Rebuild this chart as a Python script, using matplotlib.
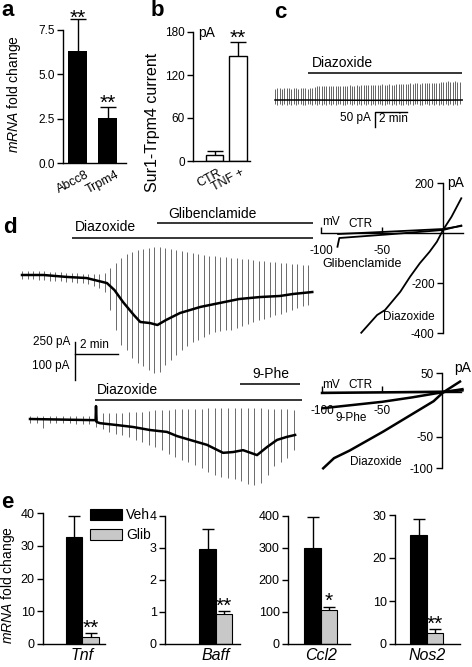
import numpy as np
import matplotlib
matplotlib.use("Agg")
import matplotlib.pyplot as plt
import matplotlib.transforms as mtransforms

plt.rcParams['font.family'] = ['Liberation Sans', 'DejaVu Sans']
plt.rcParams['mathtext.fontset'] = 'custom'
plt.rcParams['mathtext.rm'] = 'Liberation Sans'
plt.rcParams['mathtext.it'] = 'Liberation Sans:italic'
plt.rcParams['axes.linewidth'] = 1.0

# ---------------- data ----------------
# a: mRNA fold change
a_genes = ["Abcc8", "Trpm4"]
a_fold = [6.3, 2.55]
a_sem = [1.8, 0.6]

# b: Sur1-Trpm4 current (pA)
b_groups = ["CTR", "TNF +"]
b_current = [8, 147]
b_sem = [6, 19]

# c: trace (min, pA), one sweep every ~9 s
c_sweep_dt = 0.146
c_top = [38, 40, 39, 38, 40, 39, 39, 38, 40, 39, 38, 40, 39, 39, 38, 40, 39,
         45, 47, 46, 48, 47, 46, 48, 47, 47, 46, 48, 47, 46, 48, 47, 49, 48, 47, 49, 48, 49,
         50, 49, 51, 50, 50, 49, 51, 50, 52, 51, 50, 52, 51, 50, 52, 53, 52, 53, 54,
         55, 56, 55, 57, 56, 55, 57, 56, 58, 57, 56, 58, 57, 58,
         60, 61, 60, 62, 61, 60, 62, 61, 60]
c_bot = [-14, -16, -13, -15, -14, -17, -13, -15, -14, -16, -14, -13, -15, -16, -14, -13, -15,
         -14, -16, -13, -15, -14, -17, -13, -15, -14, -16, -14, -13, -15, -16, -14, -13, -15, -14, -16, -13,
         -15, -14, -17, -13, -15, -14, -16, -14, -13, -15, -16, -14, -13, -15, -14, -16, -13, -15,
         -17, -13, -15, -14, -16, -14, -13, -15, -16, -14, -13, -15, -14, -16,
         -13, -15, -14, -17, -13, -15, -14, -16, -14, -15, -13]
c_base_t = [0, 2, 6, 9, 11.7]
c_base_i = [0, 0, -1, -1, 0]
c_diaz = (2.06, 11.7)

# d upper trace: diazoxide then glibenclamide
d1_sweep_dt = 0.256
d1_top = [26, 26, 26, 26, 26, 20, 20, 20, 13, 13, 13, 7, 7, 7, 7, 13,
          46, 79, 112, 138, 151, 165, 171, 178, 184, 184, 178, 171, 165, 158, 151, 145,
          138, 132, 125, 125, 118, 118, 112, 112, 105, 105, 99, 92, 92, 86, 86, 79, 79,
          72, 72, 66, 66]
d1_bot = [-26, -26, -26, -33, -33, -39, -39, -39, -46, -46, -53, -53, -59, -72, -86, -112,
          -230, -362, -461, -494, -546, -579, -599, -625, -645, -638, -592, -559, -526,
          -494, -467, -441, -428, -408, -388, -375, -368, -362, -362, -349, -336, -322,
          -309, -296, -290, -276, -263, -257, -243, -230, -217, -204, -197]
d1_base_t = [0, 1.0, 2.1, 3.0, 3.95, 4.3, 4.7, 5.2, 5.5, 5.95, 6.3, 6.7, 7.35, 8.3,
             9.2, 10.1, 11.07, 12.0, 12.6, 13.5]
d1_base_i = [0, 0, -13, -20, -53, -99, -178, -263, -309, -316, -329, -296, -250, -210,
             -184, -158, -145, -138, -125, -112]
d1_diaz = (2.33, 13.55)
d1_glib = (6.28, 13.55)

# d lower trace: diazoxide then 9-Phe
d2_sweep_dt = 0.307
d2_top = [8, 8, 8, 8, 8, 8, 8, 8, 8, 8, 16, 16, 16, 16, 16, 18, 18, 18, 21, 24, 24,
          24, 26, 26, 26, 26, 26, 29, 29, 29, 29, 29, 29, 29, 29, 29, 26, 26, 26, 26, 24]
d2_bot = [-10, -10, -24, -10, -10, -10, -10, -13, -13, -13, -21, -26, -34, -40, -42,
          -47, -55, -60, -68, -74, -82, -92, -100, -108, -113, -121, -129, -139, -147,
          -152, -155, -158, -163, -171, -174, -168, -147, -124, -113, -103, -82]
d2_base_t = [0, 2.93, 3.05, 3.07, 3.10, 3.26, 4.05, 4.79, 5.58, 6.37, 6.84, 7.44, 8.23,
             8.98, 9.44, 9.91, 10.56, 11.02, 11.49, 11.95, 12.33]
d2_base_i = [0, -3, -3, 34, -8, -11, -16, -21, -29, -34, -45, -55, -68, -89, -87, -82,
             -95, -74, -55, -47, -42]
d2_diaz = (3.02, 12.65)
d2_phe = (9.77, 12.56)

# d I-V curves (mV, pA)
iv1_ctr_v = [-86, -46, 0, 15]
iv1_ctr_i = [-4, 5, 16, 28]
iv1_glib_v = [-86.5, -85, -46, 0, 15]
iv1_glib_i = [-55, -20, -6, 12, 30]
iv1_diaz_v = [-67, -54, -47.5, -35, -27, -19, -11, -5, 0, 7, 15]
iv1_diaz_i = [-399, -328, -308, -235, -175, -121, -75, -35, 12, 65, 139]

iv2_ctr_v = [-100, -50, 0, 17]
iv2_ctr_i = [19, 20, 21, 23]
iv2_phe_v = [-99, -50, -25, 0, 17]
iv2_phe_i = [-5, 5, 12, 20, 25]
iv2_diaz_v = [-99, -90, -77, -63, -49, -35, -21, -7, 1, 15]
iv2_diaz_i = [-100, -84, -72, -57, -42, -26, -10, 6, 20, 37]

# e: mRNA fold change, vehicle vs glibenclamide
e_genes = ["Tnf", "Baff", "Ccl2", "Nos2"]
e_veh = [32.7, 2.97, 301, 25.3]
e_veh_err = [6.5, 0.63, 96, 3.7]
e_glib = [2.2, 0.94, 106, 2.6]
e_glib_err = [1.2, 0.09, 11, 0.8]
e_stars = ["**", "**", "*", "**"]
e_ticks = [[0, 10, 20, 30, 40], [0, 1, 2, 3, 4], [0, 100, 200, 300, 400], [0, 10, 20, 30]]

# ---------------- figure ----------------
W, H = 472, 667
fig = plt.figure(figsize=(W / 100, H / 100), dpi=100)


def px_axes(x0, y0, x1, y1):
    ax = fig.add_axes([x0 / W, 1 - y1 / H, (x1 - x0) / W, (y1 - y0) / H])
    ax.set_facecolor('none')
    return ax


def ftext(x, y, s, **kw):
    kw.setdefault('ha', 'left')
    kw.setdefault('va', 'center')
    return fig.text(x / W, 1 - y / H, s, **kw)


def panel(x, y, s):
    ftext(x, y, s, fontsize=16, fontweight='bold', va='baseline')


def bar_axes(x_spine, y_zero, y_tick, tick_val, x_right, x_first, pitch, y_top):
    ax = px_axes(x_spine, y_top, x_right, y_zero)
    scale = (y_zero - y_tick) / tick_val
    ax.set_ylim(0, (y_zero - y_top) / scale)
    ax.set_xlim(-(x_first - x_spine) / pitch, (x_right - x_first) / pitch)
    ax.spines[['top', 'right']].set_visible(False)
    ax.spines['left'].set_bounds(0, tick_val)
    ax.tick_params(axis='y', length=4, width=1, pad=2)
    ax.tick_params(axis='x', length=0)
    return ax


def up_err(ax, x, y, e, capsize):
    cont = ax.errorbar(x, y, yerr=[np.zeros(len(y)), e], fmt='none', ecolor='black',
                       elinewidth=1, capsize=capsize, capthick=1)
    for cl in cont.lines[1]:
        if np.allclose(cl.get_ydata(), y):
            cl.set_visible(False)


def stars(ax, x, y, s, dy, size=15):
    ax.annotate(s, (x, y), xytext=(0, dy), textcoords='offset points',
                ha='center', va='baseline', fontsize=size)


# ---- a ----
panel(1, 16, 'a')
ax = bar_axes(63, 163, 30, 7.5, 126, 77.5, 30, 10)
ax.bar(range(2), a_fold, width=19 / 30, color='black')
up_err(ax, range(2), a_fold, a_sem, 6)
for i in range(2):
    stars(ax, i, a_fold[i] + a_sem[i], '**', -3.5 if i == 0 else -1.5)
ax.set_yticks([0, 2.5, 5, 7.5], ['0.0', '2.5', '5.0', '7.5'], fontsize=8.5)
ax.set_xticks(range(2), a_genes, rotation=28, ha='right', rotation_mode='anchor', fontsize=9)
ax.tick_params(axis='x', pad=4)
for t in ax.get_xticklabels():
    t.set_transform(t.get_transform() + mtransforms.ScaledTranslation(0.08, 0, fig.dpi_scale_trans))
ftext(14, 94, r'$\it{mRNA}$ fold change', rotation=90, ha='center', fontsize=10)

# ---- b ----
panel(151, 16, 'b')
ax = bar_axes(193, 161, 32, 180, 250, 214.5, 23.5, 25)
ax.bar(range(2), b_current, width=17.5 / 23.5, color='white', edgecolor='black', linewidth=1)
up_err(ax, range(2), b_current, b_sem, 6)
stars(ax, 1, b_current[1] + b_sem[1], '**', -1.5)
ax.set_yticks([0, 60, 120, 180], ['0', '60', '120', '180'], fontsize=8.5)
ax.set_xticks(range(2), b_groups, rotation=28, ha='right', rotation_mode='anchor', fontsize=9)
ax.tick_params(axis='x', pad=4)
for t in ax.get_xticklabels():
    t.set_transform(t.get_transform() + mtransforms.ScaledTranslation(0.03, 0, fig.dpi_scale_trans))
ftext(198, 33, 'pA', fontsize=10)
ftext(153, 122, 'Sur1-Trpm4 current', rotation=90, ha='center', fontsize=11.5)


# ---- traces ----
def trace_axes(box, t0_px, base_px, px_per_min, pa_per_px):
    x0, y0, x1, y1 = box
    ax = px_axes(*box)
    ax.set_xlim((x0 - t0_px) / px_per_min, (x1 - t0_px) / px_per_min)
    ax.set_ylim((base_px - y1) * pa_per_px, (base_px - y0) * pa_per_px)
    ax.axis('off')
    return ax, (lambda ypx: (base_px - ypx) * pa_per_px), (lambda xpx: (xpx - t0_px) / px_per_min)


# c
panel(274, 18, 'c')
ax, to_pa, to_t = trace_axes((262, 55, 470, 135), 275, 100, 16, 50 / 15)
c_t = np.arange(len(c_top)) * c_sweep_dt
ax.vlines(c_t, c_bot, c_top, color='#4a4a4a', lw=0.6)
ax.plot(c_base_t, c_base_i, color='black', lw=1.1)
ax.hlines(to_pa(73), *c_diaz, color='black', lw=1.1)
ftext(312, 63, 'Diazoxide', fontsize=10)
tx, ty = to_t(375), to_pa(112)
ax.plot([tx, tx, tx + 2], [ty - 50, ty, ty], color='black', lw=1.0)
ftext(371, 118, '50 pA', ha='right', fontsize=8.5)
ftext(379, 119, '2 min', fontsize=8.5)

# d upper
panel(3, 233, 'd')
ax, to_pa, to_t = trace_axes((0, 200, 322, 392), 22, 275, 21.5, 250 / 38)
d1_t = np.arange(len(d1_top)) * d1_sweep_dt
ax.vlines(d1_t, d1_bot, d1_top, color='#6a6a6a', lw=0.7)
ax.plot(d1_base_t, d1_base_i, color='black', lw=1.8)
ax.hlines(to_pa(238), *d1_diaz, color='black', lw=1.1)
ax.hlines(to_pa(223), *d1_glib, color='black', lw=1.1)
ftext(75, 227, 'Diazoxide', fontsize=10)
ftext(168, 214, 'Glibenclamide', fontsize=10)
tx = to_t(75)
ax.plot([tx, tx], [to_pa(342), to_pa(342) - 250], color='black', lw=1.0)
ax.plot([tx, tx + 2], [to_pa(354), to_pa(354)], color='black', lw=1.0)
ftext(70, 342, '250 pA', ha='right', fontsize=8.5)
ftext(70, 366, '100 pA', ha='right', fontsize=8.5)
ftext(80, 345, '2 min', fontsize=8.5)

# d lower
ax, to_pa, to_t = trace_axes((0, 362, 322, 495), 30, 419, 21.5, 100 / 38)
d2_t = np.arange(len(d2_top)) * d2_sweep_dt
ax.vlines(d2_t, d2_bot, d2_top, color='#6a6a6a', lw=0.7)
ax.plot(d2_base_t, d2_base_i, color='black', lw=1.8)
ax.hlines(to_pa(400), *d2_diaz, color='black', lw=1.1)
ax.hlines(to_pa(384), *d2_phe, color='black', lw=1.1)
ftext(97, 390, 'Diazoxide', fontsize=10)
ftext(252, 374, '9-Phe', fontsize=10)


# ---- I-V plots ----
def iv_axes(box, x0mv_px, px_per_mv, y0pa_px, px_per_pa, xaxis_pa, ybounds, yticks):
    x0, y0, x1, y1 = box
    ax = px_axes(*box)
    ax.set_xlim((x0 - x0mv_px) / px_per_mv, (x1 - x0mv_px) / px_per_mv)
    ax.set_ylim((y0pa_px - y1) / px_per_pa, (y0pa_px - y0) / px_per_pa)
    ax.spines[['top', 'right']].set_visible(False)
    ax.spines['left'].set_position(('data', 0))
    ax.spines['bottom'].set_position(('data', xaxis_pa))
    ax.spines['left'].set_bounds(*ybounds)
    ax.spines['bottom'].set_bounds(-100, 16)
    ax.set_yticks(yticks, [str(v) for v in yticks], fontsize=8.5)
    ax.set_xticks([-100, -50], ['-100', '-50'], fontsize=8.5)
    ax.tick_params(axis='y', direction='out', length=4, width=1, pad=2)
    ax.tick_params(axis='x', direction='in', length=4, width=1, pad=9)
    return ax


ax = iv_axes((300, 175, 472, 345), 443, 1.22, 233, 0.25, 0, (-400, 200), [-400, -200, 200])
ax.plot(iv1_ctr_v, iv1_ctr_i, color='black', lw=1.3)
ax.plot(iv1_glib_v, iv1_glib_i, color='black', lw=1.3)
ax.plot(iv1_diaz_v, iv1_diaz_i, color='black', lw=1.3)
ftext(447, 183, 'pA', fontsize=10)
ftext(322, 222, 'mV', fontsize=8.5)
ftext(348, 224, 'CTR', fontsize=8.5)
ftext(322, 264, 'Glibenclamide', fontsize=9)
ftext(383, 317, 'Diazoxide', fontsize=8.5)

ax = iv_axes((300, 362, 472, 482), 442, 1.2, 405, 0.633, 20, (-100, 50), [-100, -50, 50])
ax.plot(iv2_ctr_v, iv2_ctr_i, color='black', lw=1.8)
ax.plot(iv2_phe_v, iv2_phe_i, color='black', lw=1.8)
ax.plot(iv2_diaz_v, iv2_diaz_i, color='black', lw=1.8)
ftext(454, 368, 'pA', fontsize=10)
ftext(322, 385, 'mV', fontsize=8.5)
ftext(348, 385, 'CTR', fontsize=8.5)
ftext(335, 418, '9-Phe', fontsize=8.5)
ftext(350, 462, 'Diazoxide', fontsize=8.5)

# ---- e ----
panel(1, 508, 'e')
e_boxes = [(43, 513, 105, 74), (165, 516, 240, 207.5), (288, 516, 350, 312.5), (395, 515, 460, 418.5)]
for k, gene in enumerate(e_genes):
    xs, ytk, xr, xf = e_boxes[k]
    ax = bar_axes(xs, 644, ytk, e_ticks[k][-1], xr, xf, 16.5, 505)
    hv = ax.bar([0], [e_veh[k]], width=1, color='black', edgecolor='black', linewidth=0.8)
    hg = ax.bar([1], [e_glib[k]], width=1, color='#c8c8c8', edgecolor='black', linewidth=0.8)
    up_err(ax, [0, 1], [e_veh[k], e_glib[k]], [e_veh_err[k], e_glib_err[k]], 4.5)
    stars(ax, 1, e_glib[k] + e_glib_err[k], e_stars[k], -0.5)
    ax.set_yticks(e_ticks[k], [str(v) for v in e_ticks[k]], fontsize=9)
    ax.set_xticks([0.5], [gene], fontstyle='italic', fontsize=11.5)
    ax.tick_params(axis='x', pad=3)
    if k == 0:
        fig.legend([hv, hg], ['Veh', 'Glib'], loc='upper left',
                   bbox_to_anchor=(90 / W, 1 - 508 / H), frameon=False, fontsize=10,
                   handlelength=2.3, handleheight=0.85, handletextpad=0.3,
                   labelspacing=0.45, borderpad=0, borderaxespad=0)
ftext(8, 585, r'$\it{mRNA}$ fold change', rotation=90, ha='center', fontsize=10)

fig.savefig('out.png', dpi=100, facecolor='white')
